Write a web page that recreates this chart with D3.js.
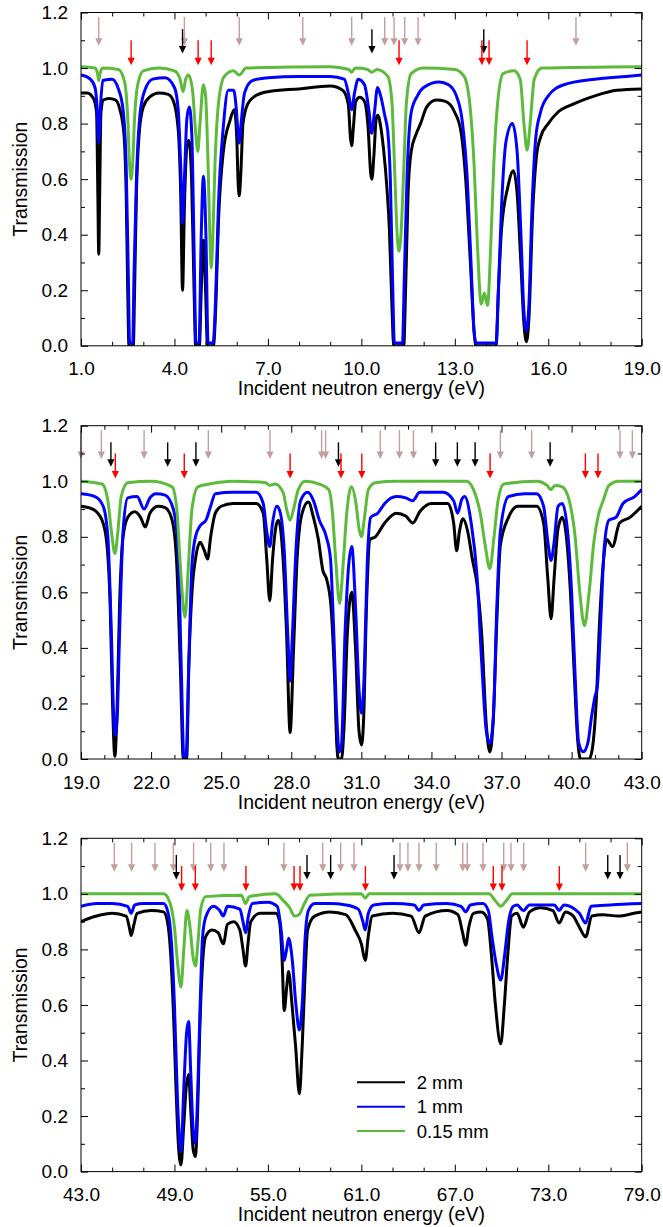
<!DOCTYPE html>
<html>
<head>
<meta charset="utf-8">
<script src="https://cdn.jsdelivr.net/npm/d3@7"></script>
<style>
  body { margin: 0; background: #fff; }
  svg { display: block; font-family: "Liberation Sans", Arial, Helvetica, sans-serif; }
</style>
</head>
<body>
<svg id="chart" width="663" height="1227"></svg>
<script>
/**** DATA *****/
const seriesNames = ['2 mm', '1 mm', '0.15 mm'];
const yTicks = [0, 0.2, 0.4, 0.6, 0.8, 1.0, 1.2];

// panel 1 : 1 - 19 eV
const p1Range = [1, 19];
const p1Ticks = [1, 4, 7, 10, 13, 16, 19];
const p1Black = [[1.0,0.91],[1.2,0.91],[1.4,0.89],[1.5,0.84],[1.54,0.55],[1.57,0.33],[1.6,0.55],[1.64,0.84],[1.72,0.885],[1.9,0.89],[2.1,0.885],[2.25,0.85],[2.38,0.76],[2.45,0.55],[2.5,0.2],[2.54,0.0],[2.68,0.0],[2.72,0.2],[2.78,0.55],[2.88,0.78],[3.0,0.86],[3.2,0.895],[3.5,0.91],[3.8,0.905],[3.97,0.88],[4.12,0.78],[4.2,0.55],[4.26,0.2],[4.32,0.5],[4.4,0.72],[4.46,0.74],[4.55,0.6],[4.63,0.2],[4.68,0.0],[4.8,0.0],[4.86,0.2],[4.93,0.38],[5.0,0.2],[5.06,0.0],[5.25,0.0],[5.33,0.15],[5.41,0.44],[5.57,0.7],[5.78,0.81],[5.92,0.85],[6.0,0.75],[6.04,0.6],[6.08,0.54],[6.13,0.62],[6.2,0.8],[6.35,0.87],[6.6,0.9],[7.0,0.915],[8.0,0.925],[9.0,0.935],[9.4,0.92],[9.58,0.87],[9.65,0.75],[9.69,0.72],[9.74,0.78],[9.82,0.88],[9.95,0.895],[10.1,0.88],[10.22,0.78],[10.3,0.62],[10.34,0.6],[10.4,0.68],[10.48,0.82],[10.53,0.83],[10.62,0.79],[10.72,0.7],[10.82,0.57],[10.9,0.42],[10.98,0.15],[11.04,0.0],[11.36,0.0],[11.42,0.2],[11.5,0.55],[11.6,0.7],[11.75,0.76],[11.9,0.8],[12.1,0.86],[12.4,0.885],[12.7,0.88],[13.0,0.84],[13.2,0.77],[13.35,0.6],[13.5,0.3],[13.62,0.05],[13.68,0.0],[14.32,0.0],[14.4,0.2],[14.5,0.42],[14.7,0.57],[14.88,0.63],[15.0,0.55],[15.12,0.3],[15.22,0.08],[15.3,0.015],[15.38,0.1],[15.5,0.48],[15.62,0.68],[15.75,0.75],[16.0,0.8],[16.3,0.84],[16.8,0.87],[17.5,0.9],[18.2,0.92],[19.0,0.925]];
const p1Blue = [[1.0,0.975],[1.3,0.96],[1.45,0.93],[1.52,0.85],[1.57,0.73],[1.62,0.85],[1.7,0.955],[2.0,0.96],[2.2,0.925],[2.35,0.85],[2.45,0.65],[2.52,0.25],[2.56,0.01],[2.66,0.01],[2.7,0.25],[2.78,0.6],[2.9,0.84],[3.05,0.92],[3.3,0.96],[3.7,0.965],[4.0,0.93],[4.12,0.85],[4.2,0.65],[4.26,0.44],[4.32,0.6],[4.4,0.82],[4.48,0.86],[4.56,0.75],[4.63,0.35],[4.69,0.01],[4.79,0.01],[4.86,0.4],[4.93,0.61],[5.01,0.4],[5.08,0.01],[5.24,0.01],[5.33,0.2],[5.41,0.5],[5.57,0.79],[5.73,0.92],[5.9,0.92],[5.98,0.86],[6.04,0.77],[6.08,0.73],[6.14,0.8],[6.25,0.91],[6.5,0.955],[7.0,0.965],[8.0,0.97],[9.0,0.97],[9.45,0.96],[9.6,0.9],[9.69,0.85],[9.78,0.91],[9.9,0.96],[10.1,0.94],[10.25,0.84],[10.33,0.765],[10.42,0.84],[10.52,0.93],[10.62,0.9],[10.75,0.83],[10.85,0.77],[10.93,0.6],[11.0,0.25],[11.06,0.01],[11.32,0.01],[11.38,0.25],[11.47,0.62],[11.6,0.84],[11.8,0.9],[12.0,0.93],[12.5,0.95],[12.8,0.94],[13.05,0.9],[13.25,0.8],[13.4,0.6],[13.52,0.3],[13.62,0.05],[13.68,0.01],[14.33,0.01],[14.4,0.2],[14.5,0.5],[14.65,0.74],[14.85,0.8],[15.0,0.7],[15.13,0.38],[15.22,0.12],[15.3,0.055],[15.38,0.15],[15.48,0.5],[15.6,0.75],[15.75,0.84],[16.0,0.9],[16.5,0.94],[17.5,0.96],[18.5,0.97],[19.0,0.975]];
const p1Green = [[1.0,1.005],[1.45,1.0],[1.53,0.98],[1.57,0.955],[1.61,0.98],[1.7,1.0],[2.2,0.995],[2.4,0.95],[2.5,0.82],[2.56,0.65],[2.61,0.6],[2.66,0.66],[2.72,0.82],[2.82,0.94],[3.0,0.99],[3.5,1.0],[4.0,0.99],[4.18,0.96],[4.28,0.915],[4.36,0.96],[4.45,0.975],[4.58,0.92],[4.68,0.77],[4.75,0.7],[4.82,0.8],[4.93,0.94],[5.0,0.9],[5.08,0.65],[5.14,0.38],[5.18,0.28],[5.23,0.38],[5.3,0.65],[5.42,0.88],[5.6,0.97],[5.9,0.99],[6.08,0.975],[6.3,1.0],[9.0,1.005],[9.6,0.995],[9.69,0.985],[9.8,1.0],[10.2,0.995],[10.33,0.985],[10.5,0.995],[10.85,0.97],[10.98,0.88],[11.08,0.6],[11.15,0.4],[11.21,0.34],[11.27,0.4],[11.35,0.6],[11.45,0.88],[11.6,0.98],[12.0,1.0],[13.0,0.995],[13.3,0.97],[13.5,0.85],[13.62,0.65],[13.72,0.38],[13.85,0.15],[13.95,0.19],[14.05,0.145],[14.15,0.35],[14.25,0.65],[14.38,0.88],[14.55,0.98],[14.9,0.99],[15.1,0.96],[15.22,0.8],[15.32,0.705],[15.42,0.8],[15.55,0.96],[15.8,1.0],[19.0,1.005]];
const p1ArrowsPink = [1.57, 4.32, 6.08, 8.12, 9.69, 10.75, 11.05, 11.39, 11.82, 16.89];
const p1ArrowsBlack = [4.26, 10.34, 13.93];
const p1ArrowsRed = [2.61, 4.76, 5.18, 11.21, 13.87, 14.10, 15.32];

// panel 2 : 19 - 43 eV
const p2Range = [19, 43];
const p2Ticks = [19, 22, 25, 28, 31, 34, 37, 40, 43];
const p2Black = [[19.0,0.91],[19.5,0.9],[19.9,0.86],[20.1,0.78],[20.25,0.55],[20.35,0.2],[20.45,0.01],[20.55,0.2],[20.65,0.55],[20.8,0.8],[21.0,0.87],[21.3,0.89],[21.55,0.87],[21.75,0.835],[21.95,0.885],[22.3,0.91],[22.6,0.905],[22.9,0.86],[23.1,0.7],[23.25,0.34],[23.38,0.0],[23.52,0.0],[23.62,0.35],[23.75,0.6],[23.9,0.72],[24.1,0.78],[24.28,0.75],[24.42,0.72],[24.55,0.8],[24.75,0.885],[25.0,0.91],[25.5,0.92],[26.5,0.92],[26.8,0.885],[26.95,0.72],[27.08,0.57],[27.2,0.72],[27.35,0.84],[27.45,0.86],[27.65,0.72],[27.8,0.45],[27.95,0.095],[28.1,0.4],[28.25,0.72],[28.45,0.88],[28.73,0.925],[28.95,0.87],[29.16,0.79],[29.35,0.68],[29.52,0.645],[29.7,0.55],[29.85,0.3],[29.95,0.05],[30.02,0.0],[30.15,0.0],[30.25,0.1],[30.4,0.45],[30.59,0.6],[30.75,0.4],[30.9,0.1],[31.01,0.05],[31.1,0.15],[31.22,0.55],[31.37,0.79],[31.6,0.8],[32.0,0.85],[32.5,0.885],[32.9,0.875],[33.2,0.85],[33.5,0.89],[34.0,0.92],[34.7,0.92],[34.95,0.85],[35.08,0.75],[35.2,0.82],[35.35,0.865],[35.55,0.82],[35.75,0.72],[35.95,0.63],[36.15,0.45],[36.35,0.12],[36.5,0.025],[36.65,0.15],[36.8,0.5],[36.95,0.77],[37.3,0.87],[37.7,0.91],[38.5,0.91],[38.8,0.85],[38.98,0.65],[39.12,0.505],[39.25,0.65],[39.42,0.83],[39.6,0.87],[39.8,0.78],[39.95,0.6],[40.1,0.33],[40.25,0.08],[40.38,0.0],[40.75,0.0],[40.9,0.045],[41.05,0.2],[41.2,0.5],[41.35,0.7],[41.5,0.79],[41.75,0.765],[42.05,0.85],[42.5,0.87],[43.0,0.91]];
const p2Blue = [[19.0,0.955],[19.6,0.945],[19.95,0.91],[20.15,0.8],[20.3,0.45],[20.4,0.15],[20.47,0.085],[20.55,0.15],[20.65,0.45],[20.8,0.82],[21.0,0.94],[21.4,0.945],[21.7,0.9],[21.95,0.94],[22.2,0.955],[22.6,0.95],[22.95,0.9],[23.15,0.765],[23.3,0.3],[23.4,0.01],[23.5,0.01],[23.6,0.3],[23.75,0.7],[23.9,0.8],[24.1,0.84],[24.35,0.86],[24.55,0.91],[24.75,0.955],[25.5,0.96],[26.5,0.96],[26.8,0.92],[26.95,0.82],[27.08,0.765],[27.2,0.85],[27.38,0.91],[27.52,0.89],[27.7,0.75],[27.85,0.45],[27.95,0.28],[28.05,0.45],[28.2,0.75],[28.4,0.93],[28.7,0.96],[28.95,0.93],[29.2,0.86],[29.5,0.8],[29.68,0.72],[29.8,0.5],[29.95,0.15],[30.05,0.025],[30.15,0.05],[30.3,0.45],[30.59,0.765],[30.75,0.55],[30.9,0.25],[31.01,0.165],[31.12,0.3],[31.25,0.7],[31.4,0.87],[31.7,0.885],[32.0,0.92],[32.5,0.945],[32.9,0.94],[33.2,0.93],[33.5,0.96],[34.5,0.96],[34.95,0.93],[35.12,0.885],[35.3,0.935],[35.42,0.945],[35.7,0.85],[35.95,0.66],[36.15,0.35],[36.35,0.1],[36.5,0.056],[36.65,0.15],[36.8,0.55],[36.95,0.82],[37.3,0.945],[38.0,0.955],[38.5,0.955],[38.8,0.91],[39.0,0.77],[39.12,0.715],[39.25,0.78],[39.42,0.91],[39.6,0.92],[39.85,0.8],[40.0,0.6],[40.15,0.3],[40.3,0.06],[40.5,0.026],[40.7,0.06],[40.85,0.15],[41.0,0.225],[41.1,0.26],[41.25,0.5],[41.4,0.765],[41.6,0.86],[41.9,0.87],[42.2,0.92],[42.7,0.945],[43.0,0.97]];
const p2Green = [[19.0,1.0],[19.9,0.99],[20.15,0.93],[20.3,0.82],[20.45,0.74],[20.58,0.82],[20.72,0.945],[21.0,0.995],[22.0,1.0],[22.9,0.98],[23.1,0.9],[23.25,0.7],[23.45,0.51],[23.6,0.7],[23.75,0.9],[24.0,0.98],[24.5,0.99],[25.5,1.0],[26.9,0.995],[27.08,0.985],[27.3,0.99],[27.65,0.96],[27.8,0.9],[27.95,0.86],[28.1,0.9],[28.3,0.97],[28.6,1.0],[29.2,0.99],[29.6,0.97],[29.75,0.9],[29.9,0.72],[30.07,0.56],[30.22,0.7],[30.37,0.88],[30.57,0.98],[30.77,0.92],[30.9,0.83],[31.01,0.8],[31.12,0.86],[31.3,0.97],[31.6,0.995],[32.5,1.0],[35.5,1.0],[35.8,0.97],[36.1,0.88],[36.3,0.77],[36.5,0.685],[36.68,0.8],[36.85,0.93],[37.1,0.99],[38.5,1.0],[38.95,0.985],[39.1,0.97],[39.3,0.985],[39.6,0.98],[39.9,0.93],[40.15,0.8],[40.35,0.6],[40.55,0.48],[40.75,0.6],[40.95,0.78],[41.15,0.88],[41.35,0.93],[41.6,0.985],[42.0,1.0],[43.0,1.0]];
const p2ArrowsPink = [19.0, 19.87, 21.70, 24.45, 27.09, 29.30, 29.47, 31.81, 32.63, 33.23, 36.95, 38.29, 42.07, 42.60];
const p2ArrowsBlack = [20.28, 22.71, 23.92, 30.02, 34.18, 35.11, 35.87, 39.08];
const p2ArrowsRed = [20.47, 23.42, 27.95, 30.13, 31.02, 36.51, 40.59, 41.13];

// panel 3 : 43 - 79 eV
const p3Range = [43, 79];
const p3Ticks = [43, 49, 55, 61, 67, 73, 79];
const p3Black = [[43.0,0.9],[44.0,0.92],[45.0,0.93],[45.9,0.92],[46.1,0.88],[46.22,0.85],[46.4,0.89],[46.6,0.93],[47.5,0.94],[48.3,0.935],[48.55,0.9],[48.75,0.79],[48.95,0.55],[49.1,0.3],[49.25,0.1],[49.42,0.024],[49.58,0.15],[49.75,0.3],[49.91,0.35],[50.05,0.22],[50.2,0.08],[50.34,0.054],[50.48,0.2],[50.62,0.5],[50.78,0.725],[51.0,0.845],[51.4,0.87],[51.8,0.86],[52.14,0.82],[52.4,0.89],[52.8,0.9],[53.2,0.87],[53.4,0.8],[53.57,0.74],[53.72,0.82],[53.9,0.9],[54.5,0.93],[55.5,0.93],[55.75,0.9],[55.9,0.78],[56.05,0.58],[56.2,0.66],[56.33,0.72],[56.55,0.6],[56.78,0.45],[57.02,0.28],[57.2,0.45],[57.38,0.7],[57.55,0.87],[58.0,0.92],[59.0,0.935],[60.0,0.925],[60.6,0.87],[61.0,0.82],[61.25,0.76],[61.45,0.85],[61.7,0.92],[63.0,0.93],[64.2,0.92],[64.7,0.86],[65.1,0.92],[66.5,0.94],[67.2,0.925],[67.5,0.86],[67.7,0.815],[67.9,0.88],[68.2,0.93],[68.7,0.935],[69.1,0.91],[69.35,0.78],[69.6,0.605],[69.95,0.46],[70.18,0.6],[70.4,0.78],[70.65,0.92],[71.0,0.93],[71.4,0.88],[71.8,0.935],[72.5,0.95],[73.3,0.94],[73.7,0.895],[74.1,0.935],[74.6,0.92],[75.0,0.88],[75.4,0.845],[75.8,0.92],[76.5,0.925],[77.5,0.92],[78.5,0.93],[79.0,0.935]];
const p3Blue = [[43.0,0.955],[44.0,0.965],[45.0,0.965],[46.0,0.955],[46.22,0.93],[46.45,0.96],[47.0,0.965],[48.3,0.965],[48.6,0.93],[48.8,0.83],[49.0,0.6],[49.2,0.25],[49.42,0.072],[49.6,0.3],[49.78,0.5],[49.91,0.54],[50.05,0.35],[50.2,0.15],[50.34,0.1],[50.5,0.3],[50.65,0.6],[50.8,0.84],[51.0,0.915],[51.5,0.955],[51.9,0.94],[52.14,0.92],[52.4,0.955],[53.2,0.945],[53.4,0.9],[53.57,0.86],[53.75,0.92],[54.0,0.965],[55.0,0.97],[55.6,0.955],[55.85,0.87],[56.05,0.76],[56.2,0.8],[56.33,0.84],[56.55,0.77],[56.8,0.6],[57.02,0.51],[57.2,0.6],[57.4,0.85],[57.6,0.94],[58.0,0.965],[59.0,0.965],[60.0,0.96],[60.8,0.945],[61.1,0.9],[61.25,0.87],[61.45,0.93],[61.8,0.96],[63.0,0.965],[64.4,0.96],[64.7,0.94],[65.0,0.96],[66.5,0.965],[67.4,0.955],[67.7,0.935],[68.0,0.96],[68.8,0.965],[69.15,0.94],[69.4,0.84],[69.65,0.75],[69.95,0.69],[70.2,0.78],[70.45,0.9],[70.75,0.955],[71.0,0.96],[71.4,0.94],[71.8,0.96],[73.4,0.96],[73.7,0.94],[74.0,0.96],[75.0,0.93],[75.4,0.895],[75.75,0.955],[77.0,0.96],[79.0,0.965]];
const p3Green = [[43.0,1.0],[48.3,1.0],[48.7,0.97],[49.0,0.88],[49.2,0.75],[49.42,0.665],[49.6,0.8],[49.8,0.94],[50.0,0.88],[50.2,0.77],[50.35,0.74],[50.5,0.82],[50.7,0.95],[51.0,0.99],[53.3,0.995],[53.57,0.965],[53.8,0.99],[55.5,1.0],[56.0,0.975],[56.4,0.95],[56.7,0.92],[57.0,0.925],[57.3,0.96],[57.7,0.995],[61.0,1.0],[61.25,0.985],[61.5,1.0],[69.2,1.0],[69.6,0.975],[69.95,0.955],[70.3,0.975],[70.7,1.0],[79.0,1.0]];
const p3ArrowsPink = [45.14, 46.25, 47.75, 48.93, 50.23, 51.33, 52.18, 56.03, 58.52, 59.67, 60.53, 63.48, 63.99, 64.70, 65.81, 67.51, 67.80, 68.81, 70.14, 70.61, 71.42, 75.40, 78.08];
const p3ArrowsBlack = [49.12, 57.51, 59.03, 63.10, 76.82, 77.61];
const p3ArrowsRed = [49.46, 50.34, 53.59, 56.68, 57.06, 61.26, 69.47, 70.03, 73.71];

/**** LAYOUT *****/
const svg = d3.select('#chart');
const left = 81, right = 641.7, plotH = 333.3;
const lineColors = ['#000000', '#0000ff', '#5dbb3c'];
const arrowColors = {pink: '#c39e9e', black: '#000000', red: '#ff0000'};
// [top, tip] of each arrow kind, in transmission units
const arrowLevels = {pink: [1.184, 1.08], black: [1.14, 1.052], red: [1.10, 1.01]};

const panels = [
	{top: 12.5, range: p1Range, ticks: p1Ticks, minor: 1, series: [p1Black, p1Blue, p1Green],
		arrows: {pink: p1ArrowsPink, black: p1ArrowsBlack, red: p1ArrowsRed}},
	{top: 425.7, range: p2Range, ticks: p2Ticks, minor: 1, series: [p2Black, p2Blue, p2Green],
		arrows: {pink: p2ArrowsPink, black: p2ArrowsBlack, red: p2ArrowsRed}},
	{top: 838.3, range: p3Range, ticks: p3Ticks, minor: 2, series: [p3Black, p3Blue, p3Green],
		arrows: {pink: p3ArrowsPink, black: p3ArrowsBlack, red: p3ArrowsRed}, legend: true}
];

panels.forEach((p, pi) => {
	const bottom = p.top + plotH;
	const x = d3.scaleLinear().domain(p.range).range([left, right]);
	const y = d3.scaleLinear().domain([0, 1.2]).range([bottom, p.top]);
	const g = svg.append('g');

	const clipId = 'clip' + pi;
	g.append('clipPath').attr('id', clipId)
		.append('rect').attr('x', left).attr('y', p.top).attr('width', right - left).attr('height', plotH);

	// spectra
	const line = d3.line().x(d => x(d[0])).y(d => y(d[1])).curve(d3.curveMonotoneX);
	g.append('g').attr('clip-path', `url(#${clipId})`)
		.selectAll('path').data(p.series).join('path')
		.attr('d', line)
		.attr('fill', 'none')
		.attr('stroke', (d, i) => lineColors[i])
		.attr('stroke-width', 3)
		.attr('stroke-linejoin', 'round');

	// arrows
	['pink', 'black', 'red'].forEach(k => {
		const [t0, t1] = arrowLevels[k];
		const ag = g.append('g').attr('fill', arrowColors[k]).attr('stroke', arrowColors[k]);
		ag.selectAll('line').data(p.arrows[k]).join('line')
			.attr('x1', d => x(d)).attr('x2', d => x(d))
			.attr('y1', y(t0)).attr('y2', y(t1) - 5)
			.attr('stroke-width', 1.4);
		ag.selectAll('path').data(p.arrows[k]).join('path')
			.attr('stroke', 'none')
			.attr('d', d => `M${x(d) - 3.6},${y(t1) - 7.5}L${x(d) + 3.6},${y(t1) - 7.5}L${x(d)},${y(t1)}Z`);
	});

	// ticks
	const minorX = d3.range(p.range[0], p.range[1] + 0.001, p.minor).filter(v => !p.ticks.includes(v));
	const minorY = d3.range(0.1, 1.2, 0.2);
	const fmt = d3.format('.1f');

	const xb = g.append('g').attr('transform', `translate(0,${bottom})`)
		.call(d3.axisBottom(x).tickValues(p.ticks).tickSize(-7).tickFormat(fmt));
	xb.attr('font-size', 19).attr('font-family', null);
	xb.selectAll('.tick text').attr('y', 29.5).attr('dy', null).attr('fill', '#000');
	g.append('g').attr('transform', `translate(0,${bottom})`)
		.call(d3.axisBottom(x).tickValues(minorX).tickSize(-4).tickFormat(''));
	g.append('g').attr('transform', `translate(0,${p.top})`)
		.call(d3.axisTop(x).tickValues(p.ticks).tickSize(-7).tickFormat(''));
	g.append('g').attr('transform', `translate(0,${p.top})`)
		.call(d3.axisTop(x).tickValues(minorX).tickSize(-4).tickFormat(''));

	const yl = g.append('g').attr('transform', `translate(${left},0)`)
		.call(d3.axisLeft(y).tickValues(yTicks).tickSize(-7).tickFormat(fmt));
	yl.attr('font-size', 19).attr('font-family', null);
	yl.selectAll('.tick text').attr('x', -13).attr('fill', '#000');
	g.append('g').attr('transform', `translate(${left},0)`)
		.call(d3.axisLeft(y).tickValues(minorY).tickSize(-4).tickFormat(''));
	g.append('g').attr('transform', `translate(${right},0)`)
		.call(d3.axisRight(y).tickValues(yTicks).tickSize(-7).tickFormat(''));
	g.append('g').attr('transform', `translate(${right},0)`)
		.call(d3.axisRight(y).tickValues(minorY).tickSize(-4).tickFormat(''));

	g.selectAll('.domain').remove();
	g.selectAll('.tick line').attr('stroke', '#000');

	g.append('rect')
		.attr('x', left).attr('y', p.top).attr('width', right - left).attr('height', plotH)
		.attr('fill', 'none').attr('stroke', '#000').attr('stroke-width', 1);

	// axis titles
	g.append('text').text('Incident neutron energy (eV)')
		.attr('x', (left + right) / 2).attr('y', bottom + 49.5)
		.attr('text-anchor', 'middle').attr('font-size', 19.5);
	g.append('text').text('Transmission')
		.attr('transform', `translate(26.5,${p.top + plotH / 2}) rotate(-90)`)
		.attr('text-anchor', 'middle').attr('font-size', 19.5);

	if (p.legend) {
		const lg = g.append('g');
		const ly = [1082.3, 1106.7, 1131];
		seriesNames.forEach((name, i) => {
			lg.append('line').attr('x1', 357).attr('x2', 405).attr('y1', ly[i]).attr('y2', ly[i])
				.attr('stroke', lineColors[i]).attr('stroke-width', 2);
			lg.append('text').text(name).attr('x', 416.7).attr('y', ly[i] + 6.5)
				.attr('font-size', 18.5);
		});
	}
});
</script>
</body>
</html>
